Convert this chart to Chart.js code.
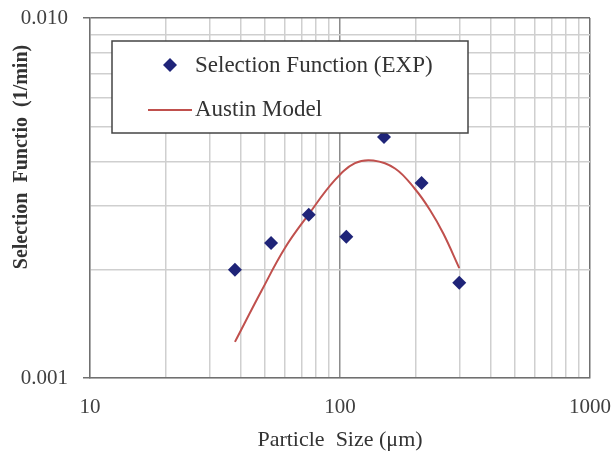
<!DOCTYPE html>
<html>
<head>
<meta charset="utf-8">
<script src="https://cdn.jsdelivr.net/npm/chart.js@4/dist/chart.umd.min.js"></script>
<style>
  html, body { margin: 0; padding: 0; background: #fff; }
  #wrap { width: 613px; height: 453px; }
</style>
</head>
<body>
<div id="wrap"><canvas id="grafico" width="613" height="453"></canvas></div>
<script>
// === Datos ===
const expSize = [38, 53, 75, 106, 150, 212, 300];
const expSel = [0.00200, 0.00237, 0.00284, 0.00247, 0.00467, 0.00348, 0.00184];

const modelSize = [38, 48.6, 60.3, 74.7, 95.5, 114.8, 135.9, 166, 199.5, 229, 259, 300];
const modelSel = [0.00126, 0.00175, 0.00230, 0.00284, 0.00355, 0.00395, 0.00402, 0.00382, 0.00335, 0.00293, 0.00252, 0.00202];

const xTicks = [10, 20, 30, 40, 50, 60, 70, 80, 90, 100, 200, 300, 400, 500, 600, 700, 800, 900, 1000];
const xLabels = [10, 100, 1000];
const yTicks = [0.001, 0.002, 0.003, 0.004, 0.005, 0.006, 0.007, 0.008, 0.009, 0.01];
const yLabels = [0.001, 0.01];

const legendLabels = ["Selection Function (EXP)", "Austin Model"];
const yTitle = "Selection  Functio  (1/min)";
const xTitle = "Particle  Size (μm)";

const serif = "'Liberation Serif', 'DejaVu Serif', serif";
const azul = "#1f2478";
const rojo = "#c0504d";

const esIgual = (a, b) => Math.abs(a - b) < b * 1e-6;

// quita el relleno automático de las etiquetas para fijar el área
function fijarEje(s, prop, valor) {
  s[prop] = valor;
  s.paddingTop = 0;
  s.paddingBottom = 0;
  s.paddingLeft = 0;
  s.paddingRight = 0;
}

// === Leyenda y título del eje Y ===
const leyendaCaja = {
  id: "leyendaCaja",
  afterDatasetsDraw(chart) {
    const ctx = chart.ctx;
    ctx.save();
    ctx.fillStyle = "#fff";
    ctx.strokeStyle = "#444";
    ctx.lineWidth = 1.5;
    ctx.fillRect(112, 41, 356, 92);
    ctx.strokeRect(112, 41, 356, 92);

    // marcador rombo
    ctx.fillStyle = azul;
    ctx.beginPath();
    ctx.moveTo(170, 58);
    ctx.lineTo(177, 65);
    ctx.lineTo(170, 72);
    ctx.lineTo(163, 65);
    ctx.closePath();
    ctx.fill();

    // línea del modelo
    ctx.strokeStyle = rojo;
    ctx.lineWidth = 2;
    ctx.beginPath();
    ctx.moveTo(148, 110);
    ctx.lineTo(192, 110);
    ctx.stroke();

    ctx.fillStyle = "#333";
    ctx.font = "23px " + serif;
    ctx.textBaseline = "middle";
    ctx.textAlign = "left";
    ctx.fillText(legendLabels[0], 195, 66);
    ctx.fillText(legendLabels[1], 195, 110);

    // título eje Y (desplazado hacia arriba como en el original)
    ctx.translate(22, 157);
    ctx.rotate(-Math.PI / 2);
    ctx.textAlign = "center";
    ctx.font = "bold 20px " + serif;
    ctx.fillText(yTitle, 0, 0);
    ctx.restore();
  }
};

const ctx = document.getElementById("grafico").getContext("2d");

new Chart(ctx, {
  type: "scatter",
  data: {
    datasets: [
      {
        label: legendLabels[0],
        data: expSize.map((x, i) => ({ x, y: expSel[i] })),
        pointStyle: "rectRot",
        pointRadius: 7,
        pointBackgroundColor: azul,
        pointBorderColor: azul,
        borderWidth: 0,
        showLine: false,
        order: 1
      },
      {
        label: legendLabels[1],
        data: modelSize.map((x, i) => ({ x, y: modelSel[i] })),
        showLine: true,
        borderColor: rojo,
        borderWidth: 2,
        pointRadius: 0,
        tension: 0.4,
        order: 2
      }
    ]
  },
  options: {
    responsive: false,
    animation: false,
    layout: { padding: { top: 18, right: 23, left: 0, bottom: 0 } },
    plugins: {
      legend: { display: false },
      tooltip: { enabled: false }
    },
    scales: {
      x: {
        type: "logarithmic",
        min: 10,
        max: 1000,
        afterBuildTicks: (s) => { s.ticks = xTicks.map(v => ({ value: v })); },
        afterFit: (s) => fijarEje(s, "height", 75),
        border: { color: "#707070", width: 1.5 },
        grid: {
          drawTicks: false,
          color: (c) => {
            const v = c.tick ? c.tick.value : 0;
            if (esIgual(v, 1000)) return "#707070";
            if (esIgual(v, 100)) return "#8c8c8c";
            return "#cfcfcf";
          },
          lineWidth: 1.5
        },
        ticks: {
          autoSkip: false,
          maxRotation: 0,
          padding: 17,
          color: "#404040",
          font: { family: serif, size: 21 },
          callback: (v) => xLabels.some(l => esIgual(v, l)) ? String(v) : ""
        },
        title: {
          display: true,
          text: xTitle,
          color: "#333",
          font: { family: serif, size: 22 },
          padding: { top: 0, bottom: 0 }
        }
      },
      y: {
        type: "logarithmic",
        min: 0.001,
        max: 0.01,
        afterBuildTicks: (s) => { s.ticks = yTicks.map(v => ({ value: v })); },
        afterFit: (s) => fijarEje(s, "width", 90),
        border: { color: "#707070", width: 1.5 },
        grid: {
          tickLength: 7,
          tickColor: (c) => {
            const v = c.tick ? c.tick.value : 0;
            return yLabels.some(l => esIgual(v, l)) ? "#707070" : "rgba(0,0,0,0)";
          },
          color: (c) => {
            const v = c.tick ? c.tick.value : 0;
            if (esIgual(v, 0.01)) return "#707070";
            return "#cfcfcf";
          },
          lineWidth: 1.5
        },
        ticks: {
          autoSkip: false,
          padding: 15,
          color: "#404040",
          font: { family: serif, size: 21 },
          callback: (v) => yLabels.some(l => esIgual(v, l)) ? v.toFixed(3) : ""
        },
        title: { display: false }
      }
    }
  },
  plugins: [leyendaCaja]
});
</script>
</body>
</html>
